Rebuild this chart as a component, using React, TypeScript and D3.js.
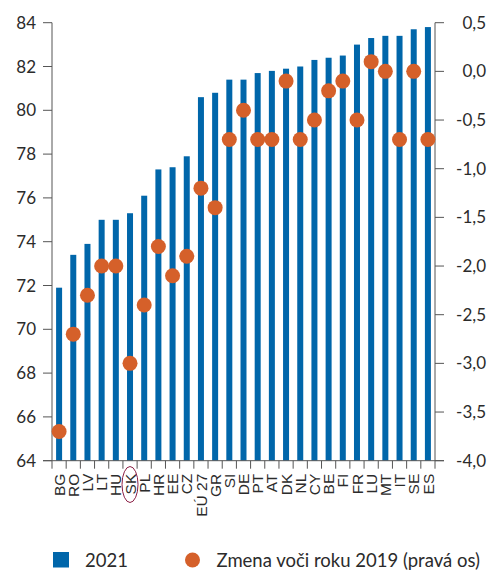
import React from "react";
import * as d3 from "d3";

const categories = ["BG","RO","LV","LT","HU","SK","PL","HR","EE","CZ","EÚ 27","GR","SI","DE","PT","AT","DK","NL","CY","BE","FI","FR","LU","MT","IT","SE","ES"];
const values2021 = [71.9,73.4,73.9,75.0,75.0,75.3,76.1,77.3,77.4,77.9,80.6,80.8,81.4,81.4,81.7,81.8,81.9,82.0,82.3,82.4,82.5,83.0,83.3,83.4,83.4,83.7,83.8];
const change2019 = [-3.7,-2.7,-2.3,-2.0,-2.0,-3.0,-2.4,-1.8,-2.1,-1.9,-1.2,-1.4,-0.7,-0.4,-0.7,-0.7,-0.1,-0.7,-0.5,-0.2,-0.1,-0.5,0.1,0.0,-0.7,0.0,-0.7];
const leftTicks = [64,66,68,70,72,74,76,78,80,82,84];
const rightTicks = [0.5,0.0,-0.5,-1.0,-1.5,-2.0,-2.5,-3.0,-3.5,-4.0];
const legendBar = "2021";
const legendDot = "Zmena voči roku 2019 (pravá os)";
const highlighted = "SK";

const BLUE = "#0066aa";
const ORANGE = "#d5602a";
const AXIS = "#555";
const TEXT = "#2b2b2b";
const FONT = "Lato, 'Open Sans', sans-serif";
const LABEL_FONT = "'Liberation Sans', Arial, sans-serif";

export default function App() {
  const W = 489, H = 572;
  const left = 52, right = 435, top = 22.7, bottom = 460.7;
  const x = d3.scaleBand<string>().domain(categories).range([left, right]).padding(0);
  const yL = d3.scaleLinear().domain([64, 84]).range([bottom, top]);
  const yR = d3.scaleLinear().domain([-4, 0.5]).range([bottom, top]);
  const bw = 6;
  const fmt = (v: number) => d3.format(".1f")(v).replace(".", ",").replace("−", "-");
  const skX = (x(highlighted) as number) + x.bandwidth() / 2;

  return (
    <svg width={W} height={H} style={{ position: "absolute", left: 0, top: 0 }}>
      <rect width={W} height={H} fill="#fff" />
      {categories.map((c, i) => (
        <rect key={c} x={(x(c) as number) + x.bandwidth() / 2 - bw / 2} y={yL(values2021[i])}
          width={bw} height={bottom - yL(values2021[i])} fill={BLUE} />
      ))}
      {/* left axis */}
      <line x1={left} x2={left} y1={top} y2={bottom} stroke={AXIS} strokeWidth={1} />
      {leftTicks.map((t) => (
        <g key={t}>
          <line x1={left - 9} x2={left} y1={yL(t)} y2={yL(t)} stroke={AXIS} />
          <text x={36} y={yL(t)} dy="0.36em" textAnchor="end" fontSize={17} fontFamily={FONT} fill={TEXT}>{t}</text>
        </g>
      ))}
      {/* right axis */}
      <line x1={right} x2={right} y1={top} y2={bottom} stroke={AXIS} strokeWidth={1} />
      {rightTicks.map((t) => (
        <g key={t}>
          <line x1={right} x2={right + 9} y1={yR(t)} y2={yR(t)} stroke={AXIS} />
          <text x={486} y={yR(t)} dy="0.36em" textAnchor="end" fontSize={17} fontFamily={FONT} fill={TEXT}>{fmt(t)}</text>
        </g>
      ))}
      {/* x axis */}
      <line x1={left - 9} x2={right + 9} y1={bottom} y2={bottom} stroke={AXIS} />
      {categories.map((c) => (
        <line key={"t" + c} x1={x(c) as number} x2={x(c) as number} y1={bottom} y2={bottom + 8} stroke={AXIS} />
      ))}
      <line x1={right} x2={right} y1={bottom} y2={bottom + 8} stroke={AXIS} />
      {categories.map((c) => {
        const cx = (x(c) as number) + x.bandwidth() / 2;
        return (
          <text key={"l" + c} transform={`translate(${cx},${bottom + 13}) rotate(-90)`} textAnchor="end"
            dy="0.36em" fontSize={15.5} fontFamily={LABEL_FONT} fill={TEXT}>{c}</text>
        );
      })}
      <ellipse cx={skX} cy={484.5} rx={8} ry={18} fill="none" stroke="#8b1f45" strokeWidth={1} />
      {/* dots */}
      {categories.map((c, i) => (
        <circle key={"d" + c} cx={(x(c) as number) + x.bandwidth() / 2} cy={yR(change2019[i])} r={7.5} fill={ORANGE} />
      ))}
      {/* legend */}
      <rect x={53} y={552} width={16} height={15.5} fill={BLUE} />
      <text x={85} y={567} fontSize={18.5} fontFamily={FONT} fill={TEXT}>{legendBar}</text>
      <circle cx={192.5} cy={560} r={7.5} fill={ORANGE} />
      <text x={216.5} y={567} fontSize={18.5} fontFamily={FONT} fill={TEXT}>{legendDot}</text>
    </svg>
  );
}
